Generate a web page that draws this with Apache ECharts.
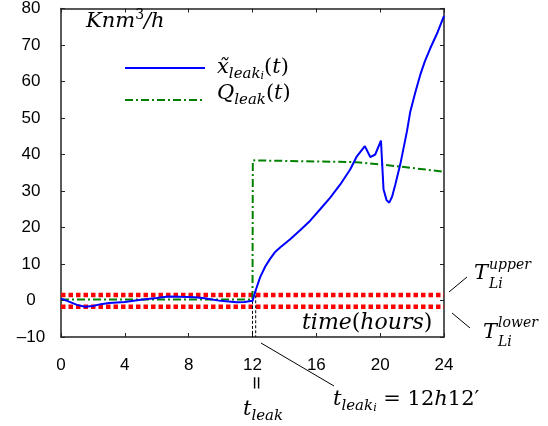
<!DOCTYPE html>
<html>
<head>
<meta charset="utf-8">
<script src="https://cdn.jsdelivr.net/npm/echarts@6/dist/echarts.min.js"></script>
<style>
  html, body { margin: 0; padding: 0; background: #fff; }
  #chart { width: 548px; height: 426px; }
</style>
</head>
<body>
<div id="chart"></div>
<script>
// 时间轴 / 刻度
const xTicks = [0, 4, 8, 12, 16, 20, 24];
const yTicks = [-10, 0, 10, 20, 30, 40, 50, 60, 70, 80];

// 估计泄漏 x~_leak_i(t)
const estTime = [0, 0.5, 1, 1.5, 2, 2.5, 3, 4, 5, 6, 6.7, 7.5, 8.4, 9, 10, 11, 11.5, 12,
  12.2, 12.48, 12.8, 13.1, 13.4, 13.73, 14.36, 15, 15.6, 16.24, 16.87, 17.5, 18.12, 18.54,
  19.04, 19.38, 19.69, 20.05, 20.21, 20.4, 20.57, 20.75, 20.95, 21.26, 21.68, 21.89, 22.2,
  22.51, 22.8, 23.14, 23.6, 24];
const estValue = [0.5, -0.3, -1.2, -1.7, -1.5, -1.0, -0.7, -0.4, 0.2, 0.7, 1.1, 1.0, 0.9, 0.6, -0.1, -0.5, -0.4, -0.1,
  2.8, 6.4, 9.3, 11.4, 13.2, 14.5, 16.8, 19.3, 21.8, 25.0, 28.2, 31.8, 35.9, 39.5,
  42.3, 39.3, 40.0, 43.8, 30.5, 27.5, 26.8, 28.5, 31.8, 37.3, 46.4, 51.8, 57.0,
  61.8, 65.5, 69.1, 73.5, 78.0];

// 实际泄漏 Q_leak(t)
const qTime = [0, 12, 12.02, 18.5, 20, 24];
const qValue = [0.3, 0.3, 38.4, 37.9, 37.3, 35.3];

// 阈值
const upperThreshold = 1.5;
const lowerThreshold = -1.7;

// t_leak, t_leak_i
const leakTimes = [12, 12.2];
const leakStart = [-0.1, 2.8];

const pairs = (xs, ys) => xs.map((x, i) => [x, ys[i]]);

const serif = 'DejaVu Serif';
const mathRich = {
  m: { fontFamily: serif, fontStyle: 'italic', fontSize: 21, lineHeight: 27, color: '#000' },
  r: { fontFamily: serif, fontSize: 21, lineHeight: 27, color: '#000' },
  s: { fontFamily: serif, fontStyle: 'italic', fontSize: 15, lineHeight: 13, verticalAlign: 'bottom', color: '#000' },
  ss: { fontFamily: serif, fontStyle: 'italic', fontSize: 11, lineHeight: 5, verticalAlign: 'bottom', color: '#000' },
  sup: { fontFamily: serif, fontSize: 14, lineHeight: 14, verticalAlign: 'top', color: '#000' }
};
const smallItalic = { fontFamily: serif, fontStyle: 'italic', fontSize: 14, fill: '#000', verticalAlign: 'middle' };

function mathText(x, y, text, rich) {
  return {
    type: 'text', x: x, y: y, z: 100,
    style: { text: text, rich: rich || mathRich, verticalAlign: 'middle', align: 'left' }
  };
}

function plainText(x, y, text, style) {
  return { type: 'text', x: x, y: y, z: 100, style: Object.assign({ text: text }, style) };
}

function seg(x1, y1, x2, y2, style) {
  return {
    type: 'line', z: 100,
    shape: { x1: x1, y1: y1, x2: x2, y2: y2 },
    style: Object.assign({ stroke: '#000', lineWidth: 1 }, style || {})
  };
}

let chart = echarts.init(document.getElementById('chart'), null, { renderer: 'canvas' });

const axisCommon = {
  type: 'value',
  splitLine: { show: false },
  axisLine: { show: true, onZero: false, lineStyle: { color: '#222', width: 1.5 } },
  axisTick: { show: true, inside: true, length: 4, lineStyle: { color: '#222', width: 1 } }
};

const leakSeries = leakTimes.map((t, i) => ({
  type: 'line',
  data: [[t, leakStart[i]], [t, -10]],
  symbol: 'none',
  silent: true,
  z: 3,
  lineStyle: { color: '#000', width: 1, type: [3, 2] }
}));

const timeRich = {
  m: { fontFamily: serif, fontStyle: 'italic', fontSize: 22, color: '#000' },
  r: { fontFamily: serif, fontSize: 22, color: '#000' }
};

chart.setOption({
  animation: false,
  grid: { left: 61, top: 7, right: 104, bottom: 89 },
  xAxis: [
    Object.assign({}, axisCommon, {
      min: 0, max: 24, interval: 4,
      axisLabel: { show: true, margin: 20, fontFamily: 'Liberation Sans', fontSize: 17, color: '#000' }
    }),
    Object.assign({}, axisCommon, {
      position: 'top', min: 0, max: 24, interval: 4, axisLabel: { show: false }
    })
  ],
  yAxis: [
    Object.assign({}, axisCommon, {
      min: -10, max: 80, interval: 10,
      axisLabel: {
        show: true, margin: 30, align: 'center',
        fontFamily: 'Liberation Sans', fontSize: 17, color: '#000',
        formatter: v => String(v).replace('-', '\u2013')
      }
    }),
    Object.assign({}, axisCommon, {
      position: 'right', min: -10, max: 80, interval: 10, axisLabel: { show: false }
    })
  ],
  series: [
    {
      name: 'upper', type: 'line', symbol: 'none', silent: true, z: 2,
      data: [[0, upperThreshold], [24, upperThreshold]],
      lineStyle: { color: '#ff0000', width: 4.5, type: [4.5, 3] }
    },
    {
      name: 'lower', type: 'line', symbol: 'none', silent: true, z: 2,
      data: [[0, lowerThreshold], [24, lowerThreshold]],
      lineStyle: { color: '#ff0000', width: 4.5, type: [4.5, 3] }
    },
    {
      name: 'Q', type: 'line', symbol: 'none', z: 4,
      data: pairs(qTime, qValue),
      lineStyle: { color: '#008000', width: 2, type: [8, 3, 2, 3] }
    },
    {
      name: 'est', type: 'line', symbol: 'none', z: 5,
      data: pairs(estTime, estValue),
      lineStyle: { color: '#0000ff', width: 2 }
    }
  ].concat(leakSeries),
  graphic: [
    // 单位
    mathText(86, 22, '{m|Knm}{sup|3}{m|/h}'),
    // 图例
    seg(125, 68, 205, 68, { stroke: '#0000ff', lineWidth: 2 }),
    seg(125, 100, 205, 100, { stroke: '#008000', lineWidth: 2, lineDash: [8, 3, 2, 3] }),
    mathText(217, 68, '{m|x\u0303}{s|leak}{ss|i}{r|(}{m|t}{r|)}'),
    mathText(217, 94, '{m|Q}{s|leak}{r|(}{m|t}{r|)}'),
    // 横轴标题
    mathText(302, 323, '{m|time}{r|(}{m|hours}{r|)}', timeRich),
    // 阈值标注
    seg(449, 292, 467, 277),
    seg(452, 313, 470, 328),
    mathText(474, 274, '{m|T}'),
    plainText(489, 265, 'upper', smallItalic),
    plainText(489, 284, 'Li', smallItalic),
    mathText(483, 333, '{m|T}'),
    plainText(498, 323, 'lower', smallItalic),
    plainText(498, 342, 'Li', smallItalic),
    // t_leak
    {
      type: 'text', x: 258, y: 383, rotation: Math.PI / 2, z: 100,
      style: { text: '=', fontFamily: serif, fontSize: 18, fill: '#000', align: 'center', verticalAlign: 'middle' }
    },
    mathText(243, 410, '{m|t}{s|leak}'),
    // t_leak_i
    seg(261, 343, 334, 386),
    mathText(333, 400, '{m|t}{s|leak}{ss|i}{r| = 12}{m|h}{r|12\u2032}')
  ]
});
</script>
</body>
</html>
